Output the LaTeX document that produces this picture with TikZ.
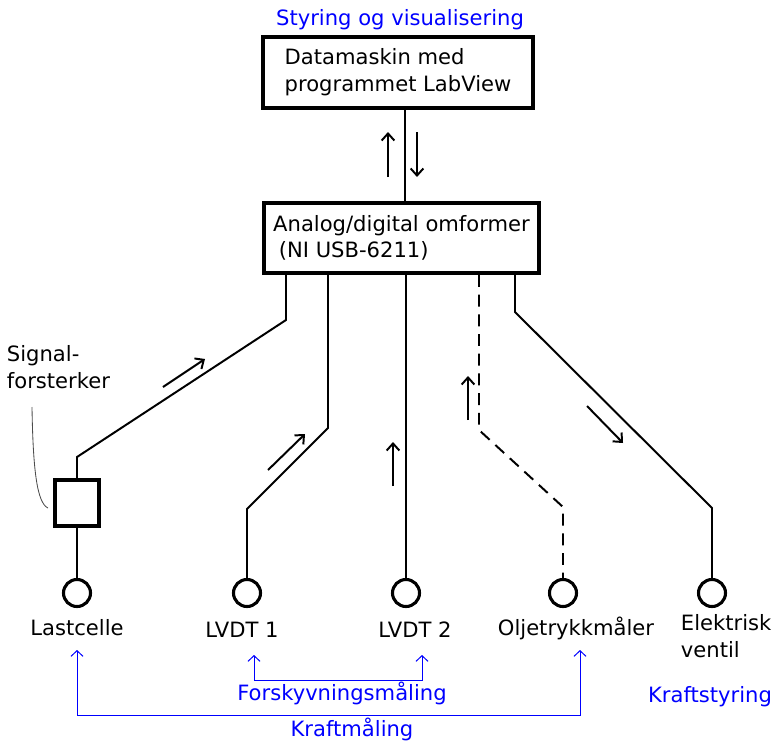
\documentclass[tikz,border=0pt]{standalone}
\usepackage{fontspec}
\setmainfont{DejaVu Sans}
\usetikzlibrary{arrows.meta,positioning}
\tikzset{>={Straight Barb[length=5pt,width=9pt]}}
\tikzset{
    box/.style={draw,line width=2.8pt,align=left,inner sep=0pt},
    wire/.style={line width=1.4pt},
    sig/.style={line width=1.4pt,->},
    sensor/.style={circle,draw,line width=2.2pt,minimum size=0.675cm,inner sep=0pt},
    amp/.style={rectangle,draw,line width=2.8pt,minimum width=1.1cm,minimum height=1.15cm,inner sep=0pt},
    meas/.style={blue,line width=0.7pt,<->,>={Straight Barb[length=4pt,width=8.5pt]}},
    bltext/.style={blue}
}

\begin{document}
\begin{tikzpicture}[x=0.025cm,y=-0.025cm,every node/.style={font=\fontsize{15}{19}\selectfont}]
    \useasboundingbox (0,0) rectangle (774,742);
    % boxes
    \node[bltext] (styring) at (400,20) {Styring og visualisering};
    \node[box,minimum width=6.75cm,minimum height=1.775cm] (pc) at (398,72.5) {Datamaskin med\\programmet LabView};
    \node[box,minimum width=6.875cm,minimum height=1.75cm] (adc) at (401.5,238) {Analog/digital omformer\\\hspace*{4pt}(NI USB-6211)};
    \coordinate (m) at (405,0);
    \draw[wire] (pc.south -| m) -- (adc.north -| m);
    \draw[sig] (388,177) -- (388,132);
    \draw[sig] (417,132) -- (417,177);
    % sensors
    \node[sensor] (last) at (77,593) {};
    \node[sensor] (lvdt1) at (247,593) {};
    \node[sensor] (lvdt2) at (406,593) {};
    \node[sensor] (olje) at (563,593) {};
    \node[sensor] (ventil) at (712,593) {};
    \node[amp] (forst) at (77,503) {};
    \node (tlast) at (77,628) {Lastcelle};
    \node (tlvdt1) at (242,630) {LVDT 1};
    \node (tlvdt2) at (415,630) {LVDT 2};
    \node (tolje) at (576,628) {Oljetrykkmåler};
    \node[anchor=west,align=left] (tventil) at (676,636) {Elektrisk\\ventil};
    \node[anchor=west,align=left] (tforst) at (2,367) {Signal-\\forsterker};
    % wires
    \coordinate (l1) at (286,320);
    \coordinate (l2) at (77,457);
    \draw[wire] (adc.south -| l1) -- (l1) -- (l2) -- (forst.north);
    \draw[wire] (forst.south) -- (last.north);
    \coordinate (d1) at (328,428);
    \coordinate (d2) at (247,509);
    \draw[wire] (adc.south -| d1) -- (d1) -- (d2) -- (lvdt1.north);
    \draw[wire] (adc.south -| lvdt2) -- (lvdt2.north);
    \coordinate (o1) at (479,430);
    \coordinate (o2) at (563,507);
    \draw[wire,dash pattern=on 8.5pt off 5.5pt] (adc.south -| o1) -- (o1) -- (o2) -- (olje.north);
    \coordinate (v1) at (515,312);
    \coordinate (v2) at (712,508);
    \draw[wire] (adc.south -| v1) -- (v1) -- (v2) -- (ventil.north);
    % signal directions
    \draw[sig] (163,387) -- (205,359);
    \draw[sig] (268,470) -- (305,434);
    \draw[sig] (393,486) -- (393,442);
    \draw[sig] (468,420) -- (468,376);
    \draw[sig] (587,406) -- (623,443);
    % leader
    \draw[gray!60!black,line width=0.6pt] (32,407) .. controls (33,470) and (37,503) .. (48,508);
    % measurement groups
    \draw[meas] (77,650) -- (77,715) -- (580,715) -- (580,650);
    \draw[meas] (254,655) -- (254,680) -- (422,680) -- (422,655);
    \node[bltext] (forsk) at (342,693) {Forskyvningsmåling};
    \node[bltext] (kraft) at (352,729) {Kraftmåling};
    \node[bltext] (kstyr) at (710,697) {Kraftstyring};
\end{tikzpicture}
\end{document}
